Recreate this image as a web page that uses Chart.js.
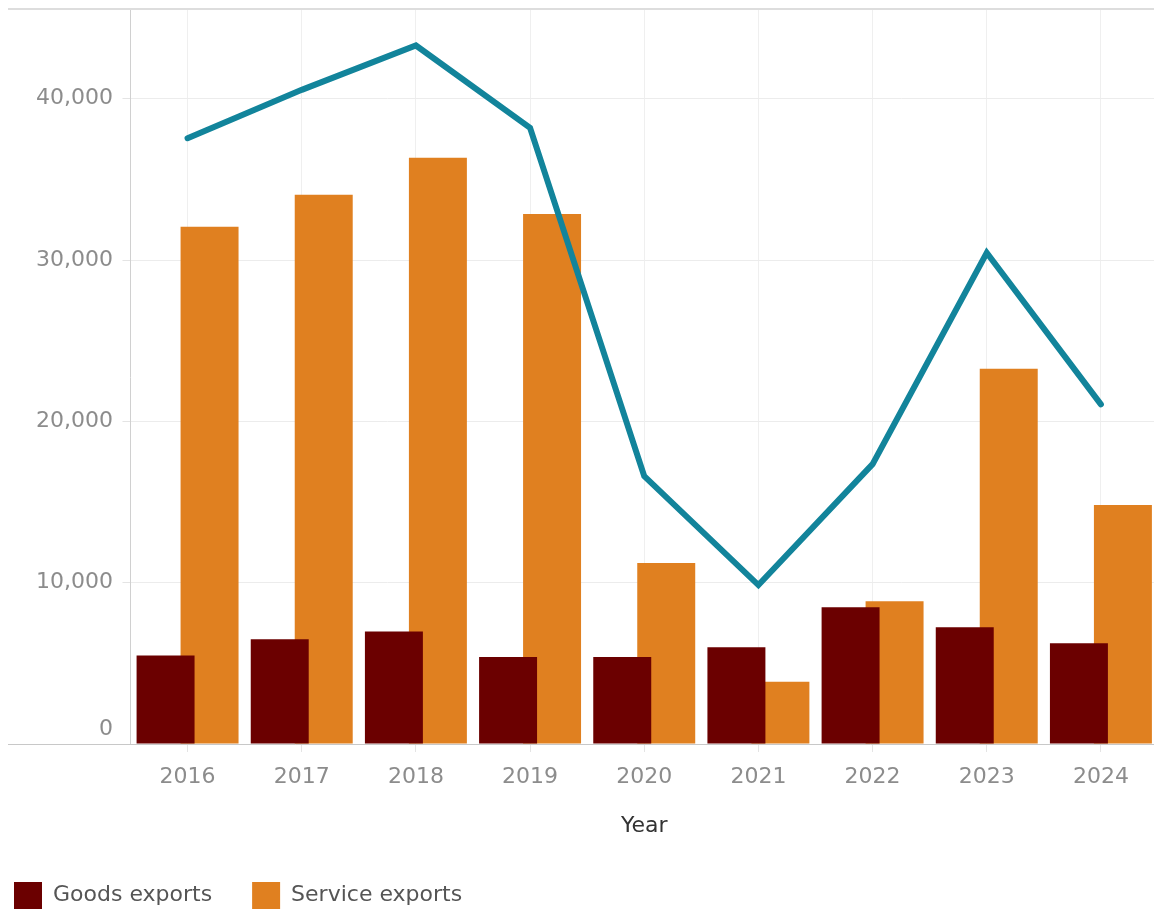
<!DOCTYPE html>
<html>
<head>
<meta charset="utf-8">
<script src="https://cdn.jsdelivr.net/npm/chart.js@4.4.1/dist/chart.umd.min.js"></script>
<style>
html, body { margin: 0; padding: 0; overflow: hidden; background: #ffffff; }
#wrap { position: relative; width: 1158px; height: 913px; }
</style>
</head>
<body>
<div id="wrap"><canvas id="c"></canvas></div>
<script>
const years = ['2016', '2017', '2018', '2019', '2020', '2021', '2022', '2023', '2024'];
const goodsExports = [5480, 6490, 6970, 5400, 5400, 6000, 8480, 7240, 6240];
const serviceExports = [32060, 34050, 36340, 32850, 11220, 3860, 8850, 23260, 14820];
const totalExports = [37550, 40550, 43300, 38200, 16600, 9850, 17350, 30450, 21050];
const yTickValues = [0, 10000, 20000, 30000, 40000];

const FONT = 'DejaVu Sans';

const framePlugin = {
  id: 'frame',
  afterLayout(chart) {
    const lg = chart.legend;
    if (lg) { lg.left = -26; lg.top += 6; }
  },
  beforeDatasetsDraw(chart) {
    const ctx = chart.ctx, a = chart.chartArea;
    ctx.save();
    ctx.strokeStyle = '#c8c8c8';
    ctx.lineWidth = 1;
    ctx.beginPath();
    ctx.moveTo(8, Math.round(a.bottom) + 0.5);
    ctx.lineTo(chart.width, Math.round(a.bottom) + 0.5);
    ctx.stroke();
    ctx.strokeStyle = '#dddddd';
    ctx.lineWidth = 2;
    ctx.beginPath();
    ctx.moveTo(8, 9);
    ctx.lineTo(chart.width, 9);
    ctx.stroke();
    ctx.restore();
  }
};

new Chart(document.getElementById('c'), {
  type: 'bar',
  data: {
    labels: years,
    datasets: [
      {
        label: 'Goods exports',
        data: goodsExports,
        backgroundColor: '#6b0000',
        borderWidth: 0,
        order: 1,
        barPercentage: 1.318,
        categoryPercentage: 0.7706
      },
      {
        label: 'Service exports',
        data: serviceExports,
        backgroundColor: '#e08020',
        borderWidth: 0,
        order: 2,
        barPercentage: 1.318,
        categoryPercentage: 0.7706
      },
      {
        type: 'line',
        label: 'Total exports',
        data: totalExports,
        borderColor: '#12849b',
        backgroundColor: '#12849b',
        borderWidth: 6,
        pointRadius: 0,
        pointHoverRadius: 0,
        tension: 0,
        borderCapStyle: 'round',
        borderJoinStyle: 'miter',
        order: 0
      }
    ]
  },
  options: {
    responsive: true,
    maintainAspectRatio: false,
    devicePixelRatio: 1,
    animation: false,
    layout: { padding: { left: 26.5, top: 10, right: 0, bottom: 0 } },
    plugins: {
      tooltip: { enabled: false },
      legend: {
        position: 'bottom',
        align: 'start',
        labels: {
          filter: (item) => item.text !== 'Total exports',
          boxWidth: 28,
          boxHeight: 27,
          padding: 40,
          color: '#555555',
          font: { family: FONT, size: 22 }
        }
      }
    },
    scales: {
      x: {
        offset: true,
        grid: {
          offset: false,
          color: '#efefef',
          lineWidth: 1,
          tickLength: 8,
          tickColor: '#e4e4e4'
        },
        border: { display: false },
        ticks: {
          color: '#8c8c8c',
          padding: 12,
          font: { family: FONT, size: 22, lineHeight: 1.2 }
        },
        title: {
          display: true,
          text: 'Year',
          color: '#333333',
          font: { family: FONT, size: 22, lineHeight: '20px' },
          padding: { top: 13.6, bottom: 0 }
        }
      },
      y: {
        min: 0,
        max: 45500,
        grid: {
          color: '#ececec',
          lineWidth: 1,
          tickLength: 8,
          tickColor: '#e4e4e4'
        },
        border: { display: true, color: '#d0d0d0', width: 1 },
        afterBuildTicks: (scale) => {
          scale.ticks = yTickValues.map(v => ({ value: v }));
        },
        ticks: {
          stepSize: 10000,
          includeBounds: false,
          padding: 9.5,
          color: '#8c8c8c',
          font: (c) => ({
            family: FONT,
            size: 22,
            lineHeight: (c.tick && c.tick.value === 0) ? '29px' : '1px'
          }),
          callback: (v) => v === 0 ? ['0', ''] : Number(v).toLocaleString('en-US')
        }
      }
    }
  },
  plugins: [framePlugin]
});
</script>
</body>
</html>
